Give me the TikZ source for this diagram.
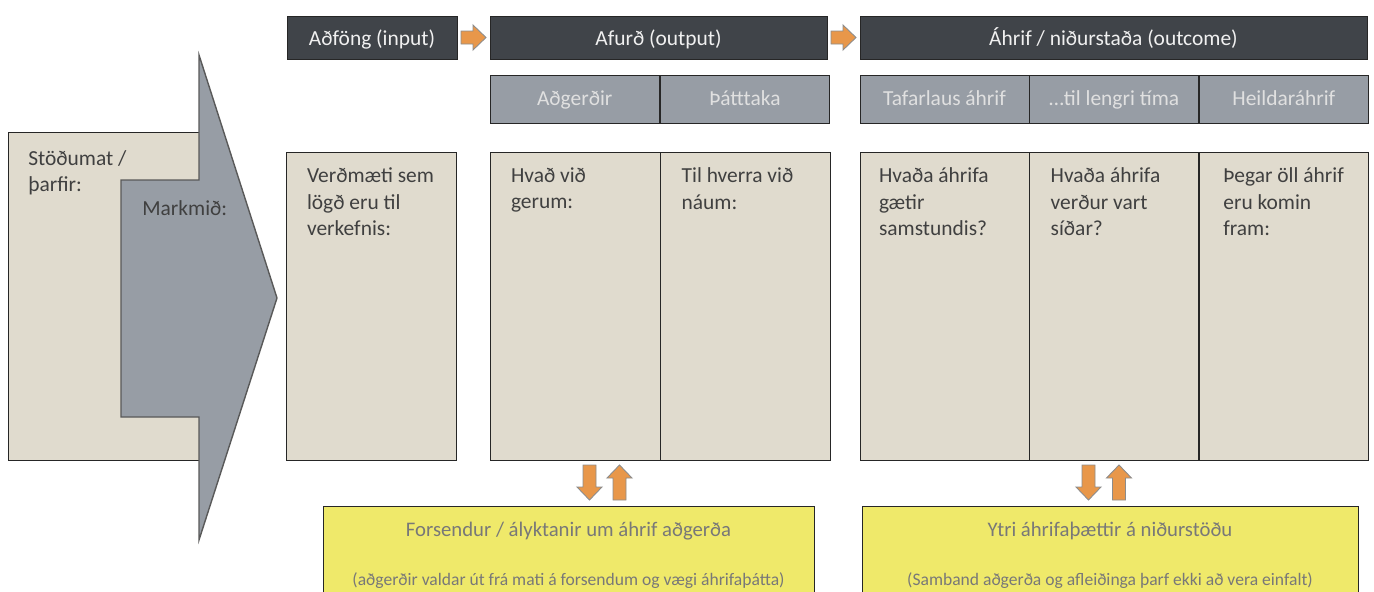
\documentclass[tikz,border=0pt]{standalone}
\usepackage{fontspec}
\setmainfont{Carlito}
\usetikzlibrary{calc,positioning}

\definecolor{hdrgray}{RGB}{64,68,73}
\definecolor{subgray}{RGB}{151,157,165}
\definecolor{beige}{RGB}{224,219,206}
\definecolor{notey}{RGB}{239,233,106}
\definecolor{orangefill}{RGB}{232,151,74}
\definecolor{softtext}{RGB}{64,64,64}
\definecolor{notetext}{RGB}{120,120,120}

\tikzset{
	hdr/.style={draw=black!85, fill=hdrgray, text=white!94!black, minimum height=0.86cm, inner sep=0pt, text height=2.1ex, text depth=0.2ex, font=\fontsize{12.2}{14}\selectfont},
	subhdr/.style={draw=black!85, fill=subgray, text=white!88!black, minimum height=0.96cm, minimum width=3.39cm, inner sep=0pt, text height=1.9ex, text depth=0.3ex, font=\fontsize{12.2}{14}\selectfont},
	cell/.style={draw=black!85, fill=beige, minimum height=6.16cm, minimum width=3.4cm, inner sep=0pt},
	celltext/.style={anchor=north west, align=left, inner sep=0pt, text=softtext, font=\fontsize{12.2}{14.9}\selectfont},
	note/.style={draw=black!85, fill=notey, minimum height=2cm, inner sep=0pt},
	notetxt/.style={text=notetext, inner sep=0pt, text height=1.7ex, text depth=0.4ex},
	orangearrow/.style={draw=black!45, fill=orangefill, line width=0.5pt},
}
% block arrow: centre, angle, half length
\def\blockarrow(#1)(#2)(#3){\draw[orangearrow, shift={(#1)}, rotate=#2] (-#3,-6.5) -- ({#3-13},-6.5) -- ({#3-13},-12.5) -- (#3,0) -- ({#3-13},12.5) -- ({#3-13},6.5) -- (-#3,6.5) -- cycle;}

\begin{document}
\begin{tikzpicture}[x=0.02cm, y=-0.02cm]
		\path[use as bounding box, clip] (0,0) rectangle (1374,592);
		%%%%% HEADER ROW %%%%%
		\node[hdr, minimum width=3.4cm] (input) at (372,37.5) {Aðföng (input)};
		\node[hdr, minimum width=6.74cm] (output) at (658.5,37.5) {Afurð (output)};
		\node[hdr, minimum width=10.14cm] (outcome) at (1113.5,37.5) {Áhrif / niðurstaða (outcome)};
		
		\blockarrow($(input.east)!0.5!(output.west)$)(0)(12.5)
		\blockarrow($(output.east)!0.5!(outcome.west)$)(0)(12.5)
		
		%%%%% SUB HEADERS %%%%%
		\node[subhdr] (actions) at (574.75,99) {Aðgerðir};
		\node[subhdr, right=0pt of actions] (particip) {Þátttaka};
		\node[subhdr, minimum width=3.38cm] (immediate) at (944.5,99) {Tafarlaus áhrif};
		\node[subhdr, minimum width=3.38cm, right=0pt of immediate] (longer) {\dots til lengri tíma};
		\node[subhdr, minimum width=3.38cm, right=0pt of longer] (overall) {Heildaráhrif};
		
		%%%%% LEFT: situation + goal arrow %%%%%
		\draw[black!85, fill=beige] (8,132) rectangle (199,460);
		\node[celltext] (needs) at (28,150) {Stöðumat /\\þarfir:};
		\draw[black!65, fill=subgray, line width=0.8pt] (121,180) -- (199,180) -- (199,55) -- (277,298) -- (199,540) -- (199,417) -- (121,417) -- cycle;
		\node[celltext] (goal) at (142,200) {Markmið:};
		
		%%%%% MAIN CELLS %%%%%
		\node[cell] (resources) at (371,306) {};
		\node[cell] (doing) at (575,306) {};
		\node[cell, right=0pt of doing] (reach) {};
		\node[cell, minimum width=3.38cm] (now) at (944.5,306) {};
		\node[cell, minimum width=3.38cm, right=0pt of now] (later) {};
		\node[cell, minimum width=3.38cm, right=0pt of later] (total) {};
		
		\node[celltext] at ($(resources.north west)+(21,16)$) {Verðmæti sem\\lögð eru til\\verkefnis:};
		\node[celltext] at ($(doing.north west)+(21,16)$) {Hvað við\\gerum:};
		\node[celltext] at ($(reach.north west)+(21,16)$) {Til hverra við\\náum:};
		\node[celltext] at ($(now.north west)+(19,16)$) {Hvaða áhrifa\\gætir\\samstundis?};
		\node[celltext] at ($(later.north west)+(21,16)$) {Hvaða áhrifa\\verður vart\\síðar?};
		\node[celltext] at ($(total.north west)+(24,16)$) {Þegar öll áhrif\\eru komin\\fram:};
		
		%%%%% ASSUMPTIONS / EXTERNAL FACTORS %%%%%
		\node[note, minimum width=9.82cm] (assume) at (568.5,556) {};
		\node[note, minimum width=9.92cm] (external) at (1110,556) {};
		
		\node[notetxt, font=\fontsize{11.8}{13}\selectfont] at (568.5,531) {Forsendur / ályktanir um áhrif aðgerða};
		\node[notetxt, font=\fontsize{10}{12}\selectfont] at (568.5,580) {(aðgerðir valdar út frá mati á forsendum og vægi áhrifaþátta)};
		\node[notetxt, font=\fontsize{11.8}{13}\selectfont] at (1110,531) {Ytri áhrifaþættir á niðurstöðu};
		\node[notetxt, font=\fontsize{10}{12}\selectfont] at (1110,580) {(Samband aðgerða og afleiðinga þarf ekki að vera einfalt)};
		
		\blockarrow(589.5,482.5)(-90)(17.5)
		\blockarrow(619.5,482.5)(90)(17.5)
		\blockarrow(1088.5,482.5)(-90)(17.5)
		\blockarrow(1119,482.5)(90)(17.5)
		%%%%% END %%%%%
	\end{tikzpicture}
\end{document}
